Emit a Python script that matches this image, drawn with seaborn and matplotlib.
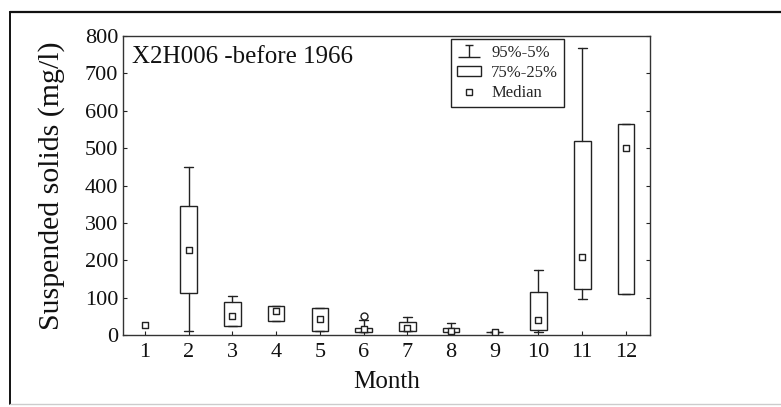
import seaborn as sns
import matplotlib.pyplot as plt
import pandas as pd
from matplotlib.lines import Line2D
from matplotlib.patches import Rectangle
from matplotlib.path import Path

# valores (mg/l)
months = [1, 2, 3, 4, 5, 6, 7, 8, 9, 10, 11, 12]
p95 = [None, 450, 104, 78, 73, 40, 49, 33, 7, 174, 769, 565]
p75 = [None, 346, 89, 78, 73, 20, 34, 20, 7, 116, 520, 565]
median = [27, 227, 51, 64, 43, 15, 18, 12, 7, 40, 210, 501]
p25 = [None, 112, 25, 38, 11, 7, 11, 8, 7, 13, 123, 109]
p5 = [None, 12, 25, 38, 11, 7, 11, 8, 7, 7, 95, 109]
outliers = {6: [52]}

title = "X2H006 -before 1966"
xlabel = "Month"
ylabel = "Suspended solids (mg/l)"
yticks = [0, 100, 200, 300, 400, 500, 600, 700, 800]

sns.set_theme(style="ticks")
plt.rcParams['font.family'] = ['Liberation Serif', 'DejaVu Serif']

fig = plt.figure(figsize=(7.81, 4.07), dpi=100)
ax = fig.add_axes([0.1575, 0.1769, 0.6748, 0.7346])

# caixas (so os meses que tem percentis)
stats = []
pos = []
for i, m in enumerate(months):
    if p75[i] is None:
        continue
    stats.append({'med': median[i], 'q1': p25[i], 'q3': p75[i],
                  'whislo': p5[i], 'whishi': p95[i],
                  'fliers': outliers.get(m, []), 'label': str(m)})
    pos.append(m)

ax.bxp(stats, positions=pos, widths=0.38, capwidths=0.2, patch_artist=True,
       boxprops=dict(facecolor='white', edgecolor='#222222', linewidth=1.0),
       whiskerprops=dict(color='#222222', linewidth=1.0),
       capprops=dict(color='#222222', linewidth=1.0),
       medianprops=dict(linestyle='none'),
       flierprops=dict(marker='o', markerfacecolor='white', markeredgecolor='#222222',
                       markersize=5, markeredgewidth=1.0),
       manage_ticks=False)

df = pd.DataFrame({'month': months, 'median': median})
sns.scatterplot(data=df, x='month', y='median', marker='s', s=22, color='white',
                edgecolor='#222222', linewidth=1.0, zorder=5, ax=ax)

ax.set_xlim(0.5, 12.55)
ax.set_ylim(0, 800)
ax.set_xticks(months)
ax.set_xticklabels([str(m) for m in months])
ax.set_yticks(yticks)
ax.tick_params(axis='both', labelsize=16, direction='in', length=3, width=0.8,
               right=True, colors='#222222', labelcolor='#111111')
ax.tick_params(axis='x', pad=6)
ax.set_xlabel(xlabel, fontsize=18, color='#111111', labelpad=6)
ax.set_ylabel(ylabel, fontsize=21.5, color='#111111', labelpad=14)
for s in ax.spines.values():
    s.set_visible(True)
    s.set_color('#333333')
    s.set_linewidth(1.0)

ax.text(0.017, 0.965, title, transform=ax.transAxes, fontsize=18,
        va='top', ha='left', color='#111111')

# legenda com os simbolos do grafico original
whisk = Path([(-1, -0.5), (1, -0.5), (0, -0.5), (0, 0.5), (-0.35, 0.5), (0.35, 0.5)],
             [Path.MOVETO, Path.LINETO, Path.MOVETO, Path.LINETO, Path.MOVETO, Path.LINETO])
h1 = Line2D([], [], linestyle='none', marker=whisk, markersize=16.5,
            markerfacecolor='none', markeredgecolor='#222222', markeredgewidth=1.0)
h2 = Rectangle((0, 0), 1, 1, facecolor='white', edgecolor='#222222', linewidth=1.0)
h3 = Line2D([], [], linestyle='none', marker='s', markersize=4.5,
            markerfacecolor='white', markeredgecolor='#222222', markeredgewidth=1.0)
leg = ax.legend([h1, h2, h3], ['95%-5%', '75%-25%', 'Median'], loc='upper right',
                bbox_to_anchor=(0.837, 0.99), borderaxespad=0, fontsize=12,
                fancybox=False, framealpha=1, edgecolor='#222222', handlelength=1.45,
                handleheight=0.55, borderpad=0.35, labelspacing=0.25,
                handletextpad=0.6)
leg.get_frame().set_linewidth(1.0)

# moldura externa da figura (scan)
fig.add_artist(Line2D([10 / 781, 1], [1 - 12 / 407, 1 - 12 / 407],
                      transform=fig.transFigure, color='#111111', linewidth=1.6))
fig.add_artist(Line2D([10 / 781, 10 / 781], [1 - 12 / 407, 1 - 404 / 407],
                      transform=fig.transFigure, color='#111111', linewidth=1.4))
fig.add_artist(Line2D([10 / 781, 1], [1 - 404 / 407, 1 - 404 / 407],
                      transform=fig.transFigure, color='#cccccc', linewidth=1.0))

fig.savefig('out.png', dpi=100)
plt.close(fig)
